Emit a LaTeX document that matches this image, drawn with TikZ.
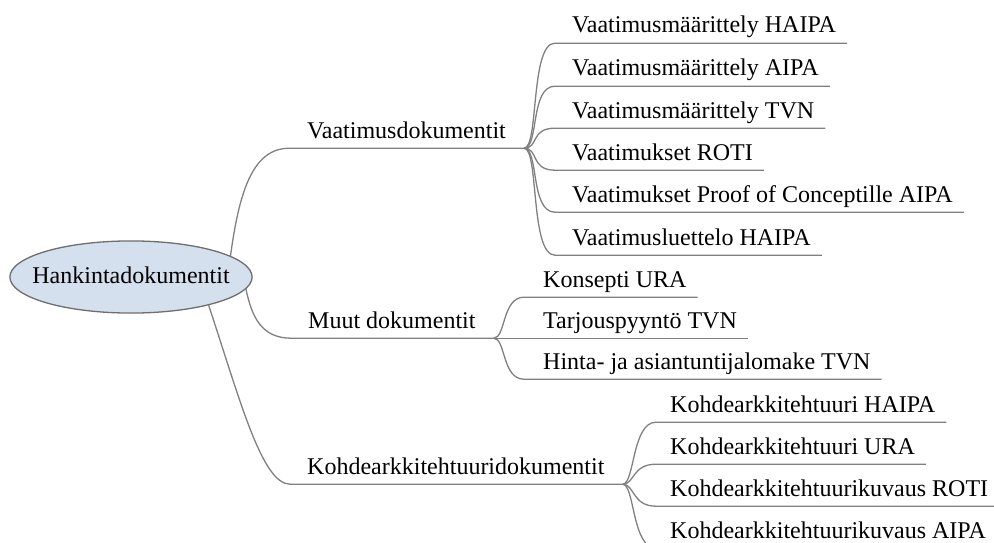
\documentclass[tikz,border=0pt]{standalone}
\usepackage{fontspec}
\setmainfont{Liberation Serif}
\usetikzlibrary{shapes.geometric}
\definecolor{rootfill}{RGB}{213,224,238}
\definecolor{rootline}{RGB}{110,110,110}
\definecolor{linegray}{RGB}{128,128,128}
\tikzset{
	branch/.style={draw=linegray, line width=1.3pt},
	doclabel/.style={anchor=base west, inner xsep=0pt, inner ysep=4pt, text depth=6pt, font=\fontsize{24}{28}\selectfont},
}
\begin{document}
\begin{tikzpicture}[x=1pt, y=-1pt]
			\clip (0,0) rectangle (994,543);
			\node[ellipse, draw=rootline, fill=rootfill, line width=1.3pt, inner xsep=-13pt, inner ysep=14.5pt, text height=17pt, text depth=5pt, font=\fontsize{24}{28}\selectfont] (root) at (131,277) {Hankintadokumentit};
			\node[doclabel] (vaat) at (307,138) {Vaatimusdokumentit};
			\node[doclabel] (muut) at (308,328) {Muut dokumentit};
			\node[doclabel] (kohde) at (307,474) {Kohdearkkitehtuuridokumentit};
			\coordinate (vaatfork) at ([xshift=18pt]vaat.south east);
			\coordinate (muutfork) at ([xshift=18pt]muut.south east);
			\coordinate (kohdefork) at ([xshift=18pt]kohde.south east);
			\draw[branch] (root.12) .. controls (240,185) and (255,148) .. ([xshift=-17pt]vaat.south west) -- (vaatfork);
			\draw[branch] (root.-6) .. controls (252,318) and (262,338) .. ([xshift=-17pt]muut.south west) -- (muutfork);
			\draw[branch] (root.-20) .. controls (240,400) and (262,484) .. ([xshift=-17pt]kohde.south west) -- (kohdefork);
			\foreach \nm/\y/\txt in {%
					va/33/Vaatimusmäärittely HAIPA,%
					vb/76/Vaatimusmäärittely AIPA,%
					vc/118/Vaatimusmäärittely TVN,%
					vd/160/Vaatimukset ROTI,%
					ve/202/Vaatimukset Proof of Conceptille AIPA,%
					vf/245/Vaatimusluettelo HAIPA%
				} {
					\node[doclabel] (\nm) at (572,\y) {\txt};
					\draw[branch] (vaatfork) .. controls +(15,0) and +(-25,0) .. ([xshift=-17pt]\nm.south west) -- ([xshift=11pt]\nm.south east);
				}
			\foreach \nm/\y/\txt in {%
					ma/287/Konsepti URA,%
					mb/328/Tarjouspyyntö TVN,%
					mc/369/Hinta- ja asiantuntijalomake TVN%
				} {
					\node[doclabel] (\nm) at (543,\y) {\txt};
					\draw[branch] (muutfork) .. controls +(12,0) and +(-22,0) .. ([xshift=-19pt]\nm.south west) -- ([xshift=11pt]\nm.south east);
				}
			\foreach \nm/\y/\txt in {%
					ka/412/Kohdearkkitehtuuri HAIPA,%
					kb/454/Kohdearkkitehtuuri URA,%
					kc/496/Kohdearkkitehtuurikuvaus ROTI,%
					kd/538/Kohdearkkitehtuurikuvaus AIPA%
				} {
					\node[doclabel] (\nm) at (670,\y) {\txt};
					\draw[branch] (kohdefork) .. controls +(12,0) and +(-24,0) .. ([xshift=-14pt]\nm.south west) -- ([xshift=11pt]\nm.south east);
				}
\end{tikzpicture}
\end{document}
